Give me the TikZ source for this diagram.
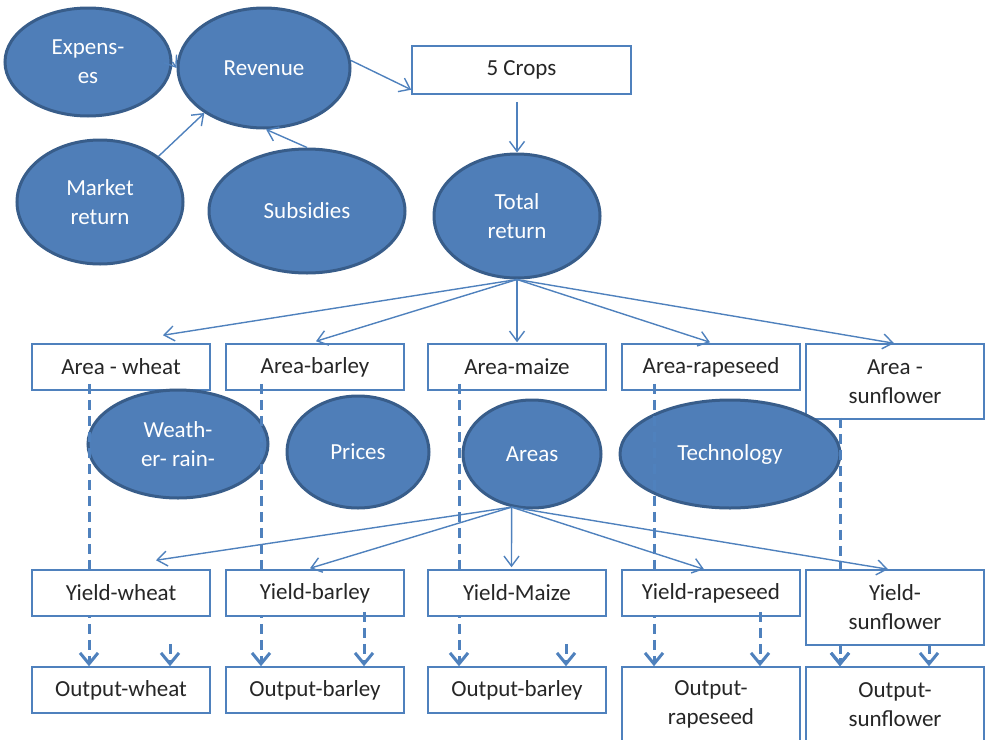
\documentclass[tikz,border=0pt]{standalone}
\usepackage{fontspec}
\setmainfont{Carlito}
\usetikzlibrary{shapes.geometric,arrows.meta}
\definecolor{ofblue}{HTML}{4F81BD}
\definecolor{ofdark}{HTML}{385D8A}
\definecolor{ofill}{HTML}{4F7EB8}
\definecolor{txt}{HTML}{262626}
\begin{document}
\begin{tikzpicture}[x=1pt,y=-1pt,
  ell/.style={ellipse, draw=ofdark, line width=3pt, fill=ofill, text=white, inner sep=0pt, align=center, font=\fontsize{23}{29}\selectfont},
  box/.style={rectangle, draw=ofblue, line width=1.5pt, fill=white, text=txt, inner sep=0pt, align=center, minimum width=178pt, minimum height=46pt, font=\fontsize{23}{29}\selectfont},
  tallbox/.style={box, minimum height=75pt},
  arr/.style={draw=ofblue, line width=1.4pt, -{Straight Barb[length=10pt,width=15pt]}},
  dsh/.style={draw=ofblue, line width=3pt, dash pattern=on 10pt off 6pt, -{Straight Barb[length=11pt,width=18pt]}}]
\useasboundingbox (0,0) rectangle (985,739);

% top ellipses
\node[ell, minimum width=166pt, minimum height=108pt] (exp) at (88,62) {Expens-\\es};
\node[ell, minimum width=172pt, minimum height=120pt] (rev) at (264,68) {Revenue};
\node[ell, minimum width=166pt, minimum height=124pt] (mr) at (100,202) {Market\\return};
\node[ell, minimum width=196pt, minimum height=124pt] (sub) at (307,211) {Subsidies};
\node[box, minimum width=219pt, minimum height=48pt] (crops) at (521.5,70) {5 Crops};
\node[ell, minimum width=166pt, minimum height=124pt] (tr) at (517,216) {Total\\return};

\draw[arr] (exp.east) -- (rev.west);
\draw[arr] (mr.38) -- (rev.217);
\draw[arr] (sub.north) -- (rev.272);
\draw[arr] (rev.5) -- ([yshift=5pt]crops.south west);
\draw[arr] ([xshift=-4.5pt,yshift=-7pt]crops.south) -- (tr.north);

% area boxes
\node[box] (aw) at (121,367) {Area - wheat};
\node[box] (ab) at (315,367) {Area-barley};
\node[box] (am) at (517,367) {Area-maize};
\node[box] (ar) at (711,367) {Area-rapeseed};
\node[tallbox] (as) at (895,381.5) {Area -\\sunflower};

% output boxes
\node[box] (ow) at (121,690) {Output-wheat};
\node[box] (ob) at (315,690) {Output-barley};
\node[box] (om) at (517,690) {Output-barley};
\node[tallbox] (or) at (711,704.5) {Output-\\rapeseed};
\node[tallbox] (os) at (895,704.5) {Output-\\sunflower};

% middle ellipses
\node[ell, minimum width=180pt, minimum height=108pt] (wr) at (178,444) {Weath-\\er- rain-};
\node[ell, minimum width=142pt, minimum height=112pt] (pr) at (358,452) {Prices};
\node[ell, minimum width=138pt, minimum height=108pt] (areas) at (532,454) {Areas};
\node[ell, minimum width=220pt, minimum height=108pt] (tech) at (730,454) {Technology};

% long dashed connectors
\draw[dsh] ([xshift=-32pt,yshift=7pt]aw.south) -- ([xshift=-32pt]ow.north);
\draw[dsh] ([xshift=-54pt,yshift=7pt]ab.south) -- ([xshift=-54pt]ob.north);
\draw[dsh] ([xshift=-58pt,yshift=7pt]am.south) -- ([xshift=-58pt]om.north);
\draw[dsh] ([xshift=-57pt,yshift=7pt]ar.south) -- ([xshift=-57pt]or.north);
\draw[dsh] ([xshift=-55pt,yshift=2pt]as.south) -- ([xshift=-55pt]os.north);

% yield boxes
\node[box] (yw) at (121,593) {Yield-wheat};
\node[box] (yb) at (315,593) {Yield-barley};
\node[box] (ym) at (517,593) {Yield-Maize};
\node[box] (yr) at (711,593) {Yield-rapeseed};
\node[tallbox] (ys) at (895,607.5) {Yield-\\sunflower};

% total return -> areas
\draw[arr] (tr.south) -- ([xshift=42pt,yshift=8pt]aw.north);
\draw[arr] (tr.south) -- ([xshift=1pt,yshift=2pt]ab.north);
\draw[arr] (tr.south) -- ([yshift=1pt]am.north);
\draw[arr] (tr.south) -- ([xshift=-1pt,yshift=1pt]ar.north);
\draw[arr] (tr.south) -- ([xshift=-1pt]as.north);

% areas -> yields
\coordinate (ao) at (areas.-111);
\draw[arr] (ao) -- ([xshift=35pt,yshift=9pt]yw.north);
\draw[arr] (ao) -- ([xshift=-5pt,yshift=1pt]yb.north);
\draw[arr] (ao) -- ([xshift=-5.5pt,yshift=2pt]ym.north);
\draw[arr] (ao) -- ([xshift=-7pt]yr.north);
\draw[arr] (ao) -- ([xshift=-7pt]ys.north);

% second dashed connectors
\draw[dsh] ([xshift=49pt,yshift=-27pt]yw.south) -- ([xshift=49pt]ow.north);
\draw[dsh] ([xshift=49pt,yshift=5pt]yb.south) -- ([xshift=49pt]ob.north);
\draw[dsh] ([xshift=49pt,yshift=-27pt]ym.south) -- ([xshift=49pt]om.north);
\draw[dsh] ([xshift=49pt,yshift=5pt]yr.south) -- ([xshift=49pt]or.north);
\draw[dsh] ([xshift=-55pt,yshift=2pt]ys.south) -- ([xshift=-55pt]os.north);
\draw[dsh] ([xshift=34pt,yshift=2pt]ys.south) -- ([xshift=34pt]os.north);
\end{tikzpicture}
\end{document}
